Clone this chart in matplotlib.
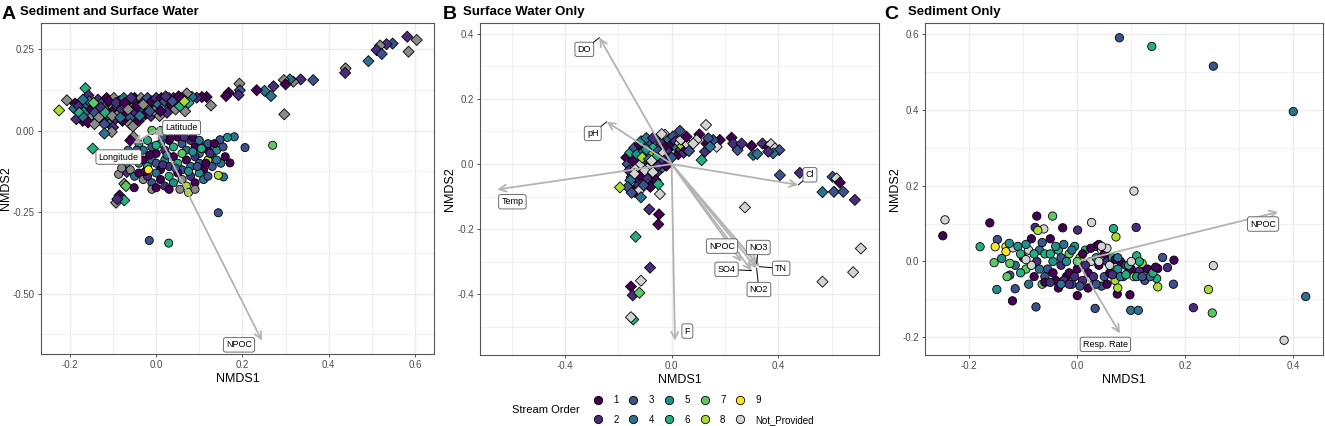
import numpy as np
import matplotlib.pyplot as plt
from matplotlib.lines import Line2D

plt.rcParams['font.family'] = ['Liberation Sans', 'DejaVu Sans']
plt.rcParams['axes.unicode_minus'] = False

# stream order codes, 0 = Not_Provided
orders = [1, 2, 3, 4, 5, 6, 7, 8, 9, 0]
order_names = ["1", "2", "3", "4", "5", "6", "7", "8", "9", "Not_Provided"]
viridis9 = ["#440154", "#472D7B", "#3B528B", "#2C728E", "#21908C",
            "#27AD81", "#5DC863", "#AADC32", "#FDE725"]

# ---------------- panel A: sediment + surface water ----------------
a_water = [
    (0.582, 0.288, 2), (0.604, 0.278, 0), (0.585, 0.242, 0), (0.548, 0.267, 3), (0.534, 0.265, 2),
    (0.519, 0.261, 0), (0.511, 0.247, 2), (0.523, 0.235, 3), (0.492, 0.213, 4), (0.439, 0.191, 0),
    (0.438, 0.177, 2), (0.364, 0.155, 3), (0.335, 0.157, 2), (0.318, 0.150, 0), (0.310, 0.157, 4),
    (0.296, 0.155, 0), (0.300, 0.142, 1), (0.297, 0.050, 0), (0.272, 0.136, 2), (0.266, 0.106, 4),
    (0.251, 0.122, 4), (0.233, 0.124, 1), (0.193, 0.144, 0), (0.194, 0.124, 3), (0.191, 0.109, 2),
    (0.168, 0.116, 1), (0.162, 0.106, 1), (0.127, 0.077, 0), (0.117, 0.103, 1), (0.106, 0.103, 1),
    (0.094, 0.101, 2), (0.083, 0.103, 4), (0.071, 0.114, 0), (0.067, 0.059, 0), (0.075, 0.085, 6),
    (-0.225, 0.062, 8), (-0.207, 0.093, 0), (-0.164, 0.130, 6), (-0.157, 0.108, 2), (-0.188, 0.083, 1),
    (-0.19, 0.068, 4), (-0.18, 0.075, 2), (-0.175, 0.045, 3), (-0.17, 0.030, 1), (-0.165, 0.06, 5),
    (-0.16, 0.08, 3), (-0.155, 0.09, 4), (-0.15, 0.065, 1), (-0.147, 0.045, 0), (-0.14, 0.075, 6),
    (-0.138, 0.03, 1), (-0.135, 0.095, 2), (-0.13, 0.055, 4), (-0.125, 0.085, 3), (-0.122, 0.035, 2),
    (-0.12, 0.07, 0), (-0.115, 0.1, 1), (-0.112, 0.05, 5), (-0.108, 0.02, 4), (-0.105, 0.08, 7),
    (-0.1, 0.06, 1), (-0.098, 0.1, 0), (-0.095, 0.035, 2), (-0.09, 0.075, 6), (-0.088, 0.05, 0),
    (-0.085, 0.09, 3), (-0.08, 0.065, 2), (-0.078, 0.03, 1), (-0.075, 0.1, 4), (-0.07, 0.075, 7),
    (-0.068, 0.05, 1), (-0.063, 0.09, 2), (-0.06, 0.04, 3), (-0.055, 0.07, 0), (-0.05, 0.1, 1),
    (-0.047, 0.055, 2), (-0.043, 0.085, 4), (-0.04, 0.03, 1), (-0.035, 0.1, 0), (-0.032, 0.065, 3),
    (-0.028, 0.09, 2), (-0.025, 0.05, 1), (-0.02, 0.1, 3), (-0.018, 0.075, 0), (-0.012, 0.045, 2),
    (-0.01, 0.09, 1), (-0.005, 0.06, 0), (0.0, 0.1, 2), (0.005, 0.08, 4), (0.008, 0.045, 0),
    (0.012, 0.1, 1), (0.016, 0.07, 5), (0.02, 0.09, 3), (0.025, 0.055, 2), (0.03, 0.1, 0),
    (0.035, 0.08, 1), (0.04, 0.1, 2), (0.045, 0.065, 0), (0.05, 0.095, 1), (0.055, 0.075, 6),
    (0.06, 0.1, 2), (0.065, 0.09, 8), (-0.185, 0.035, 2), (-0.178, 0.055, 6), (-0.168, 0.04, 4),
    (-0.158, 0.025, 1), (-0.145, 0.085, 7), (-0.142, 0.055, 3), (-0.133, 0.04, 0), (-0.128, 0.07, 2),
    (-0.118, 0.055, 6), (-0.11, 0.09, 1), (-0.102, 0.045, 0), (-0.093, 0.085, 2), (-0.083, 0.04, 4),
    (-0.073, 0.085, 1), (-0.065, 0.065, 0), (-0.058, 0.1, 2), (-0.045, 0.075, 1), (-0.038, 0.045, 4),
    (-0.03, 0.08, 0), (-0.015, 0.06, 3), (0.01, 0.06, 1), (0.022, 0.105, 2), (0.038, 0.09, 3),
    (0.052, 0.105, 1), (-0.17, 0.095, 4), (-0.06, 0.02, 0), (-0.1, 0.01, 2), (-0.12, 0.02, 3),
    (-0.143, 0.02, 0), (-0.103, -0.004, 0), (-0.12, -0.009, 4),
    (-0.054, 0.013, 0), (-0.0525, -0.019, 0), (-0.06, -0.03, 1), (-0.147, -0.055, 6), (-0.068, -0.127, 2),
    (-0.074, -0.163, 0), (-0.07, -0.17, 7), (-0.085, -0.199, 1), (-0.093, -0.221, 0), (-0.074, -0.214, 6),
    (-0.09, -0.21, 2),
]
a_sed = [
    (0.206, -0.052, 3), (0.270, -0.045, 7), (0.144, -0.252, 3), (-0.016, -0.337, 3), (0.029, -0.345, 6),
    (0.181, -0.019, 4), (0.165, -0.021, 5), (0.148, -0.028, 3), (0.171, -0.099, 1), (0.156, -0.142, 4),
    (0.144, -0.137, 8), (-0.087, -0.134, 0), (-0.051, -0.175, 1), (-0.01, 0.001, 7),
    (0.01, 0.0, 7), (-0.04, -0.04, 5), (-0.03, -0.06, 4), (-0.02, -0.03, 6), (-0.01, -0.05, 3),
    (0.0, -0.07, 1), (0.01, -0.04, 5), (0.02, -0.06, 2), (0.03, -0.03, 1), (0.04, -0.05, 6),
    (0.05, -0.02, 1), (0.06, -0.04, 3), (0.07, -0.06, 4), (0.08, -0.03, 2), (0.09, -0.05, 1),
    (0.1, -0.07, 4), (0.11, -0.05, 3), (0.12, -0.06, 1), (0.13, -0.08, 4), (0.14, -0.06, 5),
    (-0.05, -0.08, 0), (-0.04, -0.1, 5), (-0.03, -0.09, 1), (-0.02, -0.11, 6), (-0.01, -0.09, 4),
    (0.0, -0.1, 3), (0.01, -0.12, 1), (0.02, -0.09, 5), (0.03, -0.11, 2), (0.04, -0.08, 1),
    (0.05, -0.1, 6), (0.06, -0.12, 3), (0.07, -0.09, 1), (0.08, -0.11, 4), (0.09, -0.08, 2),
    (0.1, -0.1, 3), (0.11, -0.12, 1), (0.12, -0.09, 8), (0.13, -0.11, 3), (0.15, -0.1, 4),
    (-0.06, -0.12, 0), (-0.05, -0.14, 4), (-0.04, -0.13, 1), (-0.03, -0.15, 0), (-0.02, -0.14, 2),
    (-0.01, -0.16, 3), (0.0, -0.13, 4), (0.01, -0.15, 1), (0.02, -0.17, 2), (0.03, -0.14, 6),
    (0.04, -0.16, 5), (0.05, -0.13, 1), (0.06, -0.15, 0), (0.07, -0.17, 8), (0.08, -0.14, 2),
    (0.09, -0.16, 1), (0.1, -0.13, 5), (0.11, -0.15, 4), (0.12, -0.14, 3), (-0.01, -0.18, 0),
    (0.0, -0.175, 1), (0.03, -0.18, 1), (0.055, -0.18, 0), (0.075, -0.19, 8), (0.09, -0.18, 0),
    (-0.065, -0.06, 4), (-0.075, -0.09, 0), (-0.07, -0.1, 5), (-0.08, -0.115, 0), (0.015, -0.02, 3),
    (0.035, -0.02, 1), (0.065, -0.02, 2), (0.085, -0.02, 1), (0.1, -0.03, 4), (0.12, -0.04, 3),
    (0.135, -0.04, 1), (0.06, -0.07, 7), (0.025, -0.075, 4), (-0.015, -0.075, 1), (0.045, -0.115, 3),
    (0.075, -0.125, 5), (0.095, -0.11, 3), (0.115, -0.1, 1), (0.125, -0.07, 2), (0.105, -0.055, 6),
    (0.085, -0.065, 5), (-0.025, -0.125, 1), (0.015, -0.105, 2), (0.0, -0.045, 6), (-0.045, -0.06, 3),
    (0.14, -0.09, 4), (0.16, -0.08, 1), (0.155, -0.05, 3), (-0.018, -0.12, 9),
]
a_vectors = ["Latitude", "Longitude", "NPOC"]
a_vec_x = [0.018, -0.053, 0.245]
a_vec_y = [-0.016, -0.039, -0.644]
a_lab_x = [0.059, -0.087, 0.192]
a_lab_y = [0.009, -0.081, -0.657]

# ---------------- panel B: surface water only ----------------
b_water = [
    (-0.17, 0.02, 1), (-0.165, 0.0, 3), (-0.16, -0.02, 2), (-0.155, 0.035, 6), (-0.15, -0.04, 4),
    (-0.145, 0.01, 1), (-0.14, 0.05, 3), (-0.135, -0.015, 0), (-0.13, 0.03, 5), (-0.125, -0.05, 2),
    (-0.12, 0.06, 1), (-0.115, 0.0, 0), (-0.11, -0.03, 6), (-0.105, 0.04, 4), (-0.1, 0.015, 2),
    (-0.095, -0.06, 1), (-0.09, 0.065, 3), (-0.085, -0.01, 0), (-0.08, 0.03, 8), (-0.075, -0.04, 4),
    (-0.07, 0.05, 6), (-0.065, 0.0, 1), (-0.06, 0.075, 0), (-0.055, -0.025, 2), (-0.05, 0.04, 3),
    (-0.045, 0.015, 1), (-0.04, 0.065, 2), (-0.035, -0.01, 4), (-0.03, 0.035, 0), (-0.025, 0.09, 0),
    (-0.02, 0.055, 1), (-0.015, 0.02, 3), (-0.01, 0.075, 4), (-0.005, 0.04, 2), (0.0, 0.06, 1),
    (0.005, 0.085, 3), (0.01, 0.03, 0), (0.015, 0.07, 2), (0.02, 0.05, 4), (0.025, 0.03, 1),
    (0.03, 0.065, 0), (0.035, 0.045, 3), (0.04, 0.055, 8), (0.045, 0.035, 2), (0.05, 0.07, 0),
    (0.055, 0.045, 1), (0.06, 0.06, 0), (0.065, 0.04, 3), (-0.13, -0.07, 2), (-0.12, -0.035, 1),
    (-0.1, -0.02, 0), (-0.09, -0.045, 2), (-0.08, -0.07, 1), (-0.07, -0.025, 0), (-0.06, -0.05, 1),
    (-0.11, 0.02, 8), (-0.095, 0.045, 5), (-0.085, 0.015, 4), (-0.06, 0.02, 6), (-0.05, -0.005, 2),
    (-0.14, -0.03, 0), (-0.155, -0.05, 4), (-0.165, -0.07, 3), (-0.14, -0.085, 1), (-0.12, -0.08, 0),
    (-0.105, -0.065, 3), (-0.075, 0.01, 0), (-0.03, 0.01, 2), (-0.02, -0.005, 1), (0.0, 0.02, 3),
    (-0.115, 0.07, 5), (-0.095, 0.08, 4), (-0.07, 0.08, 2), (0.035, 0.075, 0),
    (0.129, 0.12, 0), (0.031, 0.102, 3), (0.104, 0.091, 1), (0.056, 0.084, 1), (-0.0375, 0.092, 0),
    (0.225, 0.081, 1), (0.181, 0.074, 1), (0.231, 0.063, 2), (0.2475, 0.043, 3), (0.2625, 0.063, 2),
    (0.30, 0.056, 1), (0.306, 0.028, 4), (0.321, 0.031, 4), (0.341, 0.063, 2), (0.3625, 0.053, 1),
    (0.3725, 0.061, 0), (0.3875, 0.048, 0), (0.404, 0.043, 3), (0.381, 0.033, 4), (0.3625, 0.038, 2),
    (0.169, 0.053, 0), (0.156, 0.074, 3), (0.131, 0.063, 1), (0.1125, 0.012, 6), (0.125, 0.038, 2),
    (0.094, 0.074, 0), (0.081, 0.063, 0), (0.1375, 0.079, 3), (0.144, 0.053, 4),
    (0.406, -0.034, 3), (0.481, -0.027, 2), (0.604, -0.039, 3), (0.619, -0.044, 0), (0.631, -0.057, 1),
    (0.566, -0.086, 4), (0.609, -0.085, 3), (0.644, -0.085, 3), (0.6875, -0.11, 2), (0.275, -0.133, 0),
    (0.71, -0.259, 0), (0.681, -0.332, 0), (0.566, -0.361, 0),
    (-0.135, -0.223, 6), (-0.081, -0.318, 2), (-0.115, -0.358, 0), (-0.1525, -0.376, 1), (-0.146, -0.403, 2),
    (-0.121, -0.395, 7), (-0.144, -0.477, 6), (-0.1525, -0.47, 0), (-0.084, -0.139, 2), (-0.0475, -0.1545, 1),
    (-0.05, -0.185, 1), (-0.05, -0.062, 6), (-0.044, -0.092, 0), (-0.115, -0.102, 4), (-0.15, -0.088, 3),
    (-0.194, -0.0716, 8),
]
b_vectors = ["DO", "pH", "Temp", "Cl", "F", "NPOC", "SO4", "NO3", "TN", "NO2"]
b_vec_x = [-0.271, -0.244, -0.654, 0.475, 0.0125, 0.2625, 0.30, 0.319, 0.329, 0.319]
b_vec_y = [0.388, 0.13, -0.078, -0.064, -0.542, -0.30, -0.327, -0.305, -0.315, -0.32]
b_lab_x = [-0.3275, -0.296, -0.5975, 0.519, 0.059, 0.189, 0.206, 0.325, 0.411, 0.3275]
b_lab_y = [0.352, 0.094, -0.1156, -0.033, -0.5125, -0.2517, -0.323, -0.256, -0.320, -0.385]
b_segment = [True, True, False, True, False, False, True, True, True, True]

# ---------------- panel C: sediment only ----------------
c_sed = [
    (0.078, 0.591, 3), (0.138, 0.568, 6), (0.252, 0.516, 3), (0.4, 0.396, 4), (0.105, 0.186, 0),
    (-0.245, 0.110, 0), (-0.249, 0.068, 1), (-0.162, 0.102, 1), (0.252, -0.011, 0), (0.243, -0.074, 8),
    (0.25, -0.136, 7), (0.423, -0.0925, 4), (0.383, -0.208, 0), (0.215, -0.122, 2), (0.178, -0.06, 3),
    (0.179, 0.0035, 1), (0.158, 0.0106, 3), (0.167, -0.016, 2), (0.149, -0.0185, 1), (0.147, -0.045, 6),
    (0.149, -0.067, 8), (0.0975, -0.088, 1), (0.099, -0.129, 4), (0.113, -0.129, 4), (0.033, -0.124, 3),
    (0.074, -0.086, 1),
    (-0.18, 0.039, 6), (-0.148, 0.058, 3), (-0.152, 0.039, 9), (-0.132, 0.039, 9), (-0.132, 0.026, 9),
    (-0.119, 0.036, 0), (-0.126, 0.048, 5), (-0.14, 0.008, 5), (-0.154, -0.003, 7), (-0.149, -0.074, 5),
    (-0.115, -0.072, 3), (-0.12, -0.104, 1), (-0.0765, -0.12, 3), (-0.125, -0.036, 3),
    (-0.075, 0.12, 1), (-0.0457, 0.12, 7), (-0.027, 0.089, 1), (0.0006, 0.083, 2), (0.0265, 0.103, 0),
    (0.067, 0.087, 6), (0.0716, 0.065, 8), (0.109, 0.09, 2), (-0.062, 0.086, 0), (-0.078, 0.09, 2),
    (-0.073, 0.082, 8),
    (-0.11, 0.04, 5), (-0.1, 0.01, 1), (-0.095, -0.02, 7), (-0.09, 0.03, 0), (-0.085, 0.06, 1),
    (-0.08, -0.04, 1), (-0.075, 0.0, 2), (-0.07, 0.03, 4), (-0.065, -0.06, 7), (-0.06, 0.02, 6),
    (-0.055, -0.02, 3), (-0.05, 0.06, 1), (-0.045, 0.0, 5), (-0.04, -0.05, 1), (-0.035, 0.03, 6),
    (-0.03, -0.01, 2), (-0.025, 0.045, 4), (-0.02, -0.04, 1), (-0.015, 0.02, 7), (-0.01, -0.06, 3),
    (-0.005, 0.04, 5), (0.0, -0.02, 1), (0.005, 0.01, 8), (0.01, -0.05, 2), (0.015, 0.03, 6),
    (0.02, -0.03, 1), (0.025, 0.0, 0), (0.03, -0.06, 4), (0.035, 0.04, 2), (0.04, -0.01, 1),
    (0.045, 0.03, 0), (0.05, -0.04, 3), (0.055, 0.0, 2), (0.06, -0.03, 1), (0.065, 0.01, 6),
    (0.07, -0.05, 8), (0.075, -0.02, 5), (0.08, 0.0, 1), (0.085, -0.04, 5), (0.09, -0.01, 2),
    (0.095, -0.03, 4), (0.1, -0.02, 1), (0.105, -0.04, 8), (0.11, 0.015, 6), (0.115, -0.025, 2),
    (0.12, -0.005, 8), (0.125, -0.05, 3), (0.13, -0.02, 1), (0.135, -0.04, 4), (0.14, -0.03, 6),
    (0.145, -0.015, 1), (-0.105, -0.03, 6), (-0.095, 0.045, 5), (-0.09, -0.06, 4), (-0.085, -0.01, 0),
    (-0.08, 0.02, 6), (-0.07, -0.02, 4), (-0.065, 0.05, 3), (-0.06, -0.04, 3), (-0.05, 0.02, 6),
    (-0.045, -0.03, 1), (-0.04, 0.04, 5), (-0.035, -0.07, 1), (-0.03, 0.01, 3), (-0.025, -0.05, 2),
    (-0.02, 0.0, 5), (-0.015, -0.03, 1), (-0.01, 0.03, 4), (-0.005, -0.04, 2), (0.0, 0.0, 7),
    (0.005, -0.065, 3), (0.01, 0.02, 1), (0.015, -0.01, 2), (0.02, -0.07, 1), (0.025, 0.035, 1),
    (0.03, -0.04, 2), (0.035, 0.01, 5), (0.04, 0.045, 1), (0.045, -0.065, 3), (0.05, 0.02, 1),
    (0.055, 0.035, 0), (0.06, -0.01, 0), (0.065, -0.035, 2), (0.07, 0.005, 1), (0.075, 0.01, 4),
    (0.08, -0.04, 4), (0.09, -0.035, 6), (0.095, -0.01, 6), (0.11, -0.04, 5), (0.115, 0.0, 6),
    (0.12, -0.04, 3), (-0.115, -0.01, 4), (-0.125, -0.005, 7), (-0.13, -0.04, 7), (-0.105, 0.02, 6),
    (-0.095, 0.005, 0), (0.0, -0.09, 1), (-0.015, -0.06, 2), (0.035, -0.06, 3), (0.055, -0.06, 1),
    (0.075, -0.07, 8), (0.1, 0.0, 0), (0.04, 0.0, 0), (0.045, 0.04, 0), (-0.06, -0.055, 1),
    (-0.03, -0.06, 4), (-0.05, -0.055, 2),
]
c_vectors = ["NPOC", "Resp. Rate"]
c_vec_x = [0.372, 0.079]
c_vec_y = [0.131, -0.19]
c_lab_x = [0.344, 0.052]
c_lab_y = [0.099, -0.219]


def colour(o, grey):
    return grey if o == 0 else viridis9[o - 1]


def style(ax, xlim, ylim, xt, xl, yt, yl):
    ax.set_xticks(xt)
    ax.set_xticklabels(xl)
    ax.set_yticks(yt)
    ax.set_yticklabels(yl)
    dx = xt[1] - xt[0]
    dy = yt[1] - yt[0]
    mx = np.arange(xt[0] - dx / 2, xlim[1], dx)
    my = np.arange(yt[0] - dy / 2, ylim[1], dy)
    ax.set_xticks(mx[mx > xlim[0]], minor=True)
    ax.set_yticks(my[my > ylim[0]], minor=True)
    ax.set_xlim(*xlim)
    ax.set_ylim(*ylim)
    ax.grid(True, which="major", color="#ebebeb", lw=0.9)
    ax.grid(True, which="minor", color="#ebebeb", lw=0.5)
    ax.set_axisbelow(True)
    ax.tick_params(which="major", labelsize=7, labelcolor="#4d4d4d", color="#333333",
                   length=2.5, width=0.6, pad=2)
    ax.tick_params(which="minor", length=0)
    for s in ax.spines.values():
        s.set_color("#555555")
        s.set_linewidth(0.8)
    ax.set_xlabel("NMDS1", fontsize=9, labelpad=2)
    ax.set_ylabel("NMDS2", fontsize=9, labelpad=0.5)


def points(ax, pts, marker, grey, s):
    x = [p[0] for p in pts]
    y = [p[1] for p in pts]
    c = [colour(p[2], grey) for p in pts]
    ax.scatter(x, y, c=c, marker=marker, s=s, edgecolors="black", linewidths=0.6, zorder=3)


def vectors(ax, names, vx, vy, lx, ly, seg=None):
    for i, n in enumerate(names):
        ax.annotate("", xy=(vx[i], vy[i]), xytext=(0, 0),
                    arrowprops=dict(arrowstyle="->,head_length=0.5,head_width=0.25",
                                    color="#b3b3b3", lw=1.3, shrinkA=0, shrinkB=0), zorder=4)
    for i, n in enumerate(names):
        box = dict(boxstyle="round,pad=0.3,rounding_size=0.25", fc="white", ec="#555555", lw=0.6)
        if seg is not None and seg[i]:
            ax.annotate(n, xy=(vx[i], vy[i]), xytext=(lx[i], ly[i]), fontsize=6.5,
                        ha="center", va="center", bbox=box, zorder=5,
                        arrowprops=dict(arrowstyle="-", color="black", lw=0.7,
                                        shrinkA=0, shrinkB=0))
        else:
            ax.text(lx[i], ly[i], n, fontsize=6.5, ha="center", va="center", bbox=box, zorder=5)


W, H = 1325, 426
fig = plt.figure(figsize=(W / 100, H / 100), dpi=100)

axA = fig.add_axes([41 / W, 1 - 354 / H, 393 / W, 331 / H])
axB = fig.add_axes([480 / W, 1 - 355 / H, 399 / W, 332 / H])
axC = fig.add_axes([925 / W, 1 - 355 / H, 398 / W, 332 / H])

style(axA, (-0.267, 0.644), (-0.685, 0.33), [-0.2, 0.0, 0.2, 0.4, 0.6],
      ["-0.2", "0.0", "0.2", "0.4", "0.6"], [-0.5, -0.25, 0.0, 0.25], ["-0.50", "-0.25", "0.00", "0.25"])
points(axA, a_water, "D", "#8a8a8a", 32)
points(axA, a_sed, "o", "#8a8a8a", 34)
vectors(axA, a_vectors, a_vec_x, a_vec_y, a_lab_x, a_lab_y)

style(axB, (-0.719, 0.778), (-0.586, 0.433), [-0.4, 0.0, 0.4], ["-0.4", "0.0", "0.4"],
      [-0.4, -0.2, 0.0, 0.2, 0.4], ["-0.4", "-0.2", "0.0", "0.2", "0.4"])
points(axB, b_water, "D", "#d3d3d3", 32)
vectors(axB, b_vectors, b_vec_x, b_vec_y, b_lab_x, b_lab_y, b_segment)

style(axC, (-0.282, 0.455), (-0.247, 0.63), [-0.2, 0.0, 0.2, 0.4], ["-0.2", "0.0", "0.2", "0.4"],
      [-0.2, 0.0, 0.2, 0.4, 0.6], ["-0.2", "0.0", "0.2", "0.4", "0.6"])
points(axC, c_sed, "o", "#d3d3d3", 36)
vectors(axC, c_vectors, c_vec_x, c_vec_y, c_lab_x, c_lab_y)

# panel tags and titles
for tag, title, xt, xtt in [("A", "Sediment and Surface Water", 2, 20),
                            ("B", "Surface Water Only", 443, 463),
                            ("C", "Sediment Only", 884, 908)]:
    fig.text(xt / W, 1 - 19 / H, tag, fontsize=14, fontweight="bold", va="baseline")
    fig.text(xtt / W, 1 - 15 / H, title, fontsize=9.5, fontweight="bold", va="baseline")

# legend
handles = [Line2D([], [], marker="o", ls="", markersize=6, markeredgecolor="black",
                  markeredgewidth=0.6, markerfacecolor=colour(o, "#d3d3d3")) for o in orders]
fig.text(512 / W, 1 - 410 / H, "Stream Order", fontsize=8, va="center")
fig.legend(handles, order_names, ncol=5, loc="center left",
           bbox_to_anchor=(593 / W, 1 - 410 / H), frameon=False, fontsize=7,
           handletextpad=1.1, columnspacing=1.0, handlelength=1.0, labelspacing=1.0,
           borderpad=0, borderaxespad=0)

fig.savefig("out.png", dpi=100)
